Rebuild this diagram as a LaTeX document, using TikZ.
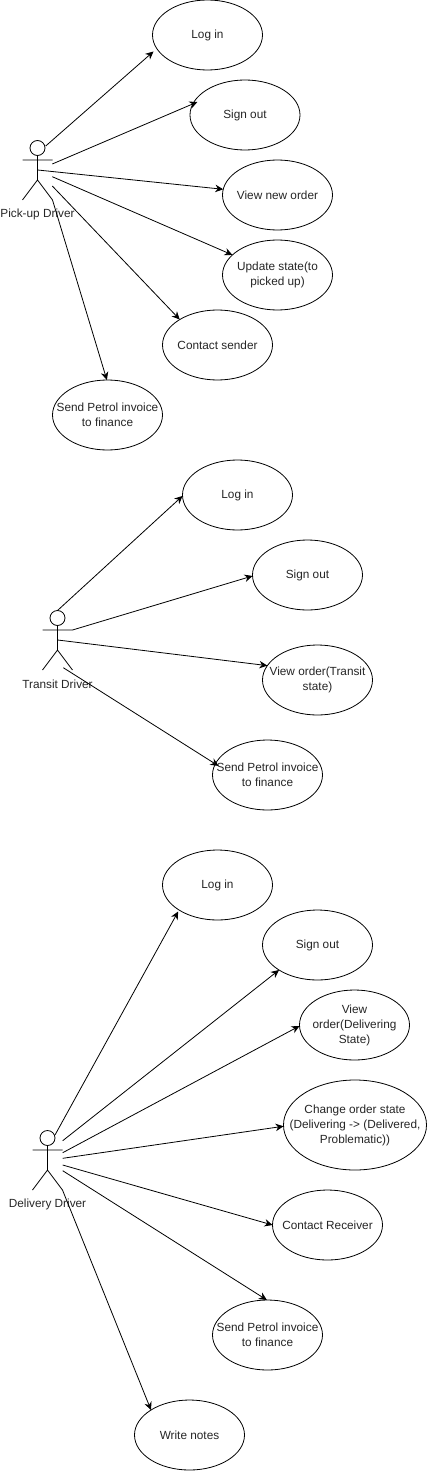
\documentclass[tikz,border=0pt]{standalone}
\usepackage{fontspec}
\setmainfont{Liberation Sans}
\usetikzlibrary{arrows.meta,shapes.geometric}
\tikzset{
  usecase/.style={draw=black,fill=white,ellipse,line width=0.8pt,minimum width=110pt,minimum height=70pt,inner xsep=-40pt,inner ysep=-10pt,outer sep=0pt,align=center,font=\fontsize{11.8}{15}\selectfont,text=black!85},
  head/.style={draw=black,circle,line width=0.8pt,minimum size=15pt,inner sep=0pt,outer sep=0pt},
  limb/.style={line width=0.8pt,draw=black},
  assoc/.style={line width=0.8pt,draw=black,-{Stealth[length=8pt,width=7.5pt]}},
  actorlabel/.style={font=\fontsize{11.8}{15}\selectfont,text=black!85,inner sep=0pt}
}
\begin{document}
\begin{tikzpicture}[x=1pt,y=-1pt]
\useasboundingbox (0,0) rectangle (427,1471);
% Pick-up driver
\node[head] (h1) at (37.5,148) {};
\coordinate (n1) at (37.5,180);
\coordinate (al1) at (22.5,160); \coordinate (ar1) at (52.5,160);
\coordinate (ll1) at (22.5,200); \coordinate (lr1) at (52.5,200);
\draw[limb] (h1.south) -- (n1) (al1) -- (ar1) (ll1) -- (n1) -- (lr1);
\node[actorlabel] (t1) at (37.5,214) {Pick-up Driver};
\node[usecase] (a) at (207.5,35) {Log in};
\node[usecase] (b) at (245,115) {Sign out};
\node[usecase] (c) at (277.5,195) {View new order};
\node[usecase] (d) at (277.5,275) {Update state(to\\picked up)};
\node[usecase] (e) at (217.5,345) {Contact sender};
\node[usecase] (f) at (107.5,415) {Send Petrol invoice\\to finance};
\coordinate (s1a) at (45.7,146); \coordinate (s1b) at (52.3,164); \coordinate (s1c) at (37.7,170);
\coordinate (s1d) at (52.3,176.7); \coordinate (s1e) at (52.3,186);
\draw[assoc,shorten >=4.4pt] (s1a) -- (a.195);
\draw[assoc,shorten >=-5pt] (s1b) -- (b.168.5);
\draw[assoc] (s1c) -- (c.174.2);
\draw[assoc] (s1d) -- (d.156.4);
\draw[assoc] (s1e) -- (e.146.7);
\draw[assoc] (lr1) -- (f.91.3);
% Transit driver
\node[head] (h2) at (57.5,618) {};
\coordinate (n2) at (57.5,650);
\coordinate (al2) at (42.5,630); \coordinate (ar2) at (72.5,630);
\coordinate (ll2) at (42.5,670); \coordinate (lr2) at (72.5,670);
\draw[limb] (h2.south) -- (n2) (al2) -- (ar2) (ll2) -- (n2) -- (lr2);
\node[actorlabel] (t2) at (57.5,684) {Transit Driver};
\node[usecase] (g) at (237.5,495) {Log in};
\node[usecase] (i) at (307.5,575) {Sign out};
\node[usecase] (j) at (317.5,680) {View order(Transit\\state)};
\node[usecase] (k) at (267.5,775) {Send Petrol invoice\\to finance};
\coordinate (s2c) at (57.7,640); \coordinate (s2d) at (63.3,667.7);
\draw[assoc] (h2.north) -- (g.181);
\draw[assoc] (ar2) -- (i.181);
\draw[assoc] (s2c) -- (j.164.1);
\draw[assoc,shorten >=-3.7pt] (s2d) -- (k.168.1);
% Delivery driver
\node[head] (h3) at (47.5,1138) {};
\coordinate (n3) at (47.5,1170);
\coordinate (al3) at (32.5,1150); \coordinate (ar3) at (62.5,1150);
\coordinate (ll3) at (32.5,1190); \coordinate (lr3) at (62.5,1190);
\draw[limb] (h3.south) -- (n3) (al3) -- (ar3) (ll3) -- (n3) -- (lr3);
\node[actorlabel] (t3) at (47.5,1204) {Delivery Driver};
\node[usecase] (m) at (217.5,885) {Log in};
\node[usecase] (o) at (317.5,945) {Sign out};
\node[usecase] (p) at (354.5,1025) {View\\order(Delivering\\State)};
\node[usecase,minimum width=143pt,minimum height=90pt] (q) at (355,1125) {Change order state\\(Delivering -> (Delivered,\\Problematic))};
\node[usecase] (r) at (327.5,1225) {Contact Receiver};
\node[usecase] (u) at (267.5,1335) {Send Petrol invoice\\to finance};
\node[usecase] (v) at (189.5,1435) {Write notes};
\coordinate (s3a) at (55,1135); \coordinate (s3b) at (62.7,1140.7); \coordinate (s3c) at (62.7,1152.7);
\coordinate (s3d) at (62.7,1158.3); \coordinate (s3e) at (62.7,1165); \coordinate (s3f) at (62.7,1170.7);
\draw[assoc,shorten >=1.7pt] (s3a) -- (m.213.3);
\draw[assoc] (s3b) -- (o.213.3);
\draw[assoc] (s3c) -- (p.181);
\draw[assoc] (s3d) -- (q.181.3);
\draw[assoc] (s3e) -- (r.180);
\draw[assoc] (s3f) -- (u.91);
\draw[assoc] (lr3) -- (v.147.2);
\end{tikzpicture}
\end{document}
